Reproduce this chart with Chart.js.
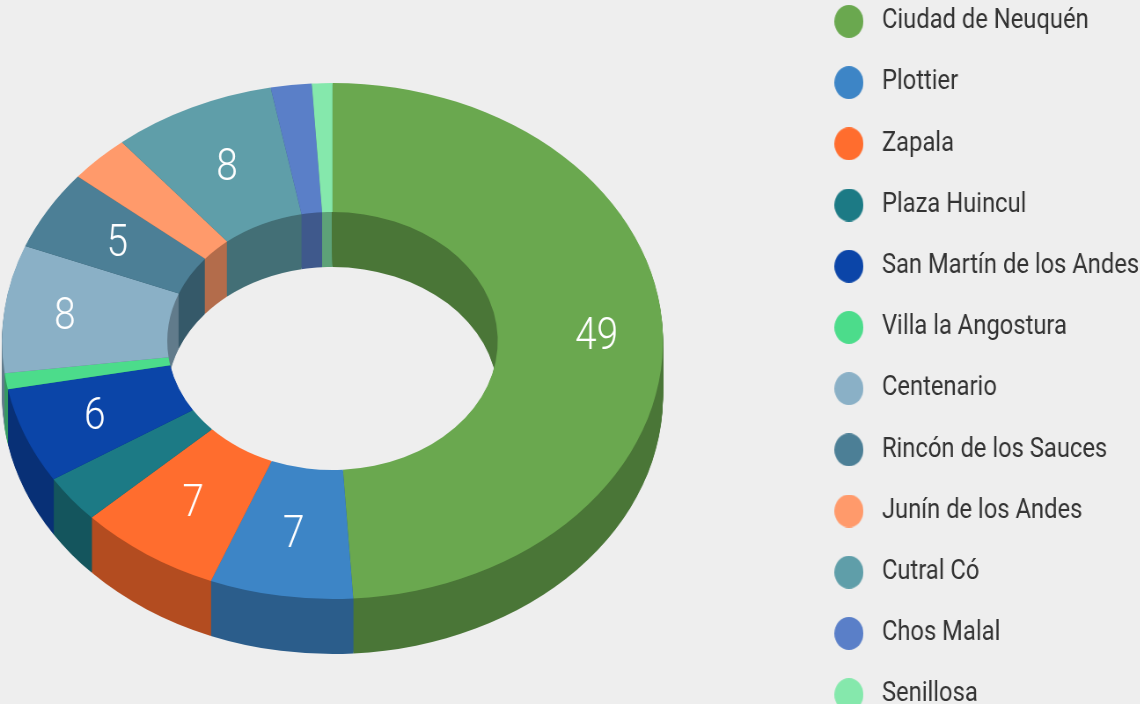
<!DOCTYPE html>
<html lang="es">
<head>
<meta charset="utf-8">
<title>Distribución por localidad</title>
<script src="https://cdn.jsdelivr.net/npm/chart.js@4"></script>
<style>
html,body{margin:0;padding:0;width:1140px;height:704px;overflow:hidden;background:#eeeeee}
#wrap{position:absolute;left:0;top:-62px;transform-origin:0 0;transform:scaleX(0.88)}
canvas{display:block}
</style>
</head>
<body>
<div id="wrap"><canvas id="c" width="1400" height="840"></canvas></div>
<script>
const categories = ["Ciudad de Neuquén","Plottier","Zapala","Plaza Huincul","San Martín de los Andes","Villa la Angostura","Centenario","Rincón de los Sauces","Junín de los Andes","Cutral Có","Chos Malal","Senillosa"];
const values = [49,7,7,3,6,1,8,5,3,8,2,1];
const colors = ["#6aa84f","#3d85c6","#ff6d2e","#1c7a85","#0b45a8","#4cdc8b","#8ab0c6","#4c7f96","#ff9a6b","#5f9ea9","#5a7fc8","#85e8ac"];
const minLabelValue = 5;

const squeeze = 0.88, offsetTop = 62;
const cx = 332.5 / squeeze, R = 330.5 / squeeze, cy = 341 + offsetTop;
const tilt = 258 / R, depth = 55, wallShade = 0.7;

function shade(hex, f){
  const n = parseInt(hex.slice(1), 16);
  return "rgb(" + [n >> 16, (n >> 8) & 255, n & 255].map(v => Math.round(v * f)).join(",") + ")";
}
function dot(color){
  const d = document.createElement("canvas");
  d.width = 33; d.height = 33;
  const g = d.getContext("2d");
  g.fillStyle = color;
  g.beginPath(); g.arc(16.5, 16.5, 16.5, 0, Math.PI * 2); g.fill();
  return d;
}
const markers = colors.map(dot);

const tilted3d = {
  id: "tilted3d",
  afterLayout(chart){
    chart.chartArea.left = cx - R; chart.chartArea.right = cx + R;
    chart.chartArea.top = cy - R; chart.chartArea.bottom = cy + R;
    chart.chartArea.width = 2 * R; chart.chartArea.height = 2 * R;
  },
  beforeDatasetsDraw(chart){
    const ctx = chart.ctx, arcs = chart.getDatasetMeta(0).data;
    const off = document.createElement("canvas");
    off.width = chart.width; off.height = chart.height;
    const g = off.getContext("2d");
    const midSin = a => Math.sin((a.startAngle + a.endAngle) / 2);
    const order = arcs.map((a, i) => i).sort((p, q) => midSin(arcs[p]) - midSin(arcs[q]));
    order.forEach(i => {
      const arc = arcs[i];
      const shim = Object.create(arc);
      shim.options = Object.assign({}, arc.options, {backgroundColor: "#000000"});
      g.globalCompositeOperation = "source-over";
      g.clearRect(0, 0, off.width, off.height);
      for (let d = depth; d >= 1; d--) {
        g.save();
        g.translate(0, cy + d); g.scale(1, tilt); g.translate(0, -cy);
        arc.draw.call(shim, g);
        g.restore();
      }
      g.globalCompositeOperation = "source-in";
      g.fillStyle = shade(colors[i], wallShade);
      g.fillRect(0, 0, off.width, off.height);
      ctx.drawImage(off, 0, 0);
    });
    ctx.save();
    ctx.translate(0, cy); ctx.scale(1, tilt); ctx.translate(0, -cy);
  },
  afterDatasetsDraw(chart){
    const ctx = chart.ctx;
    ctx.restore();
    ctx.save();
    ctx.fillStyle = "#ffffff";
    ctx.font = "300 44px Roboto";
    ctx.textAlign = "center";
    ctx.textBaseline = "middle";
    chart.getDatasetMeta(0).data.forEach((arc, i) => {
      if (values[i] < minLabelValue) return;
      const mid = (arc.startAngle + arc.endAngle) / 2;
      const c = Math.cos(mid);
      const k = 0.75 + (c > 0 ? 0.05 : 0.075) * Math.pow(c, 16);
      const x = arc.x + c * arc.outerRadius * k;
      const y = cy + Math.sin(mid) * arc.outerRadius * k * tilt + 3.5;
      ctx.fillText(String(values[i]), x, y);
    });
    ctx.restore();
  }
};

new Chart(document.getElementById("c"), {
  type: "doughnut",
  plugins: [tilted3d],
  data: {
    labels: categories,
    datasets: [{data: values, backgroundColor: colors, borderWidth: 0, clip: false}]
  },
  options: {
    responsive: false,
    animation: false,
    cutout: "50%",
    layout: {padding: {right: 95.5}},
    events: [],
    plugins: {
      tooltip: {enabled: false},
      legend: {
        position: "right",
        labels: {
          font: {family: "Roboto", size: 27},
          color: "#333333",
          padding: 34.2,
          usePointStyle: true,
          pointStyleWidth: 48,
          generateLabels: chart => categories.map((text, i) => ({
            text, fontColor: "#333333", pointStyle: markers[i], index: i, hidden: false, lineWidth: 0
          }))
        }
      }
    }
  }
});
</script>
</body>
</html>
